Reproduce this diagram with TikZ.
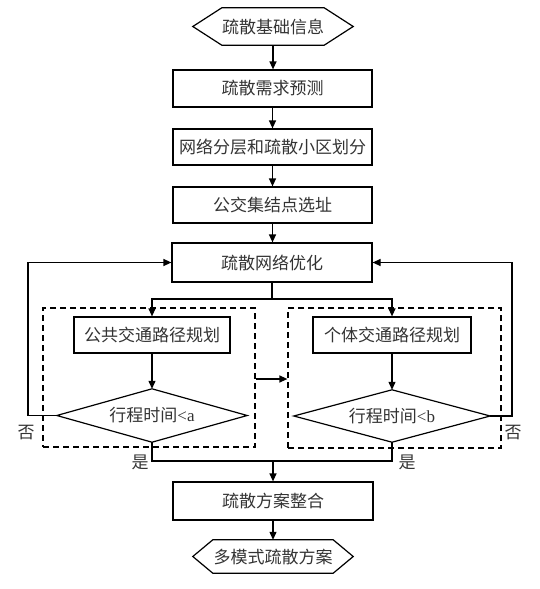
\documentclass[tikz,border=0pt]{standalone}
\usepackage{fontspec}
\setmainfont{Liberation Serif}
\newfontfamily\cjk{Noto Sans CJK SC}
\usetikzlibrary{arrows.meta}
\definecolor{txt}{HTML}{333333}
\begin{document}
\begin{tikzpicture}[x=1pt,y=-1pt,
  ln/.style={line width=1.2pt, line join=miter},
  arr/.style={ln, -{Triangle[length=8pt,width=7pt]}},
  box/.style={draw, ln, minimum width=199pt, minimum height=37pt, inner sep=0pt, text=txt, font=\cjk\fontsize{17}{17}\selectfont},
  hexn/.style={minimum width=160pt, inner sep=0pt, text=txt, font=\cjk\fontsize{17}{17}\selectfont},
  dia/.style={inner sep=0pt, text=txt, font=\cjk\fontsize{17}{17}\selectfont},
  dbox/.style={draw, ln, dash pattern=on 6pt off 4pt, inner sep=0pt},
  lab/.style={inner sep=0pt, text=txt, font=\cjk\fontsize{17}{17}\selectfont}]
\useasboundingbox (0,0) rectangle (540,589);
% dashed groups
\node[dbox, minimum width=212pt, minimum height=139pt] (LD) at (149,377.5) {};
\node[dbox, minimum width=213pt, minimum height=140pt] (RD) at (394.5,378) {};
% top hexagon
\node[hexn, minimum height=37pt] (h1) at (273,26.5) {疏散基础信息};
\draw[ln] (h1.west) -- ([xshift=29pt]h1.north west) -- ([xshift=-29pt]h1.north east) -- (h1.east) -- ([xshift=-29pt]h1.south east) -- ([xshift=29pt]h1.south west) -- cycle;
% main boxes
\node[box] (b1) at (272.5,88.5) {疏散需求预测};
\node[box, minimum height=36pt] (b2) at (272.5,147) {网络分层和疏散小区划分};
\node[box, minimum height=36pt] (b3) at (272.5,205) {公交集结点选址};
\node[box, minimum width=200pt, minimum height=39pt] (b4) at (272,262.5) {疏散网络优化};
% sub boxes
\node[box, minimum width=156pt, minimum height=36pt] (L1) at (152,335) {公共交通路径规划};
\node[box, minimum width=158pt, minimum height=36pt] (R1) at (392,335) {个体交通路径规划};
% diamonds
\node[dia, minimum width=190pt, minimum height=53pt] (D1) at (152,415.5) {行程时间{\rmfamily\fontsize{17}{17}\selectfont<a}};
\draw[ln] (D1.west) -- (D1.north) -- (D1.east) -- (D1.south) -- cycle;
\node[dia, minimum width=196pt, minimum height=52pt] (D2) at (392,416) {行程时间{\rmfamily\fontsize{17}{17}\selectfont<b}};
\draw[ln] (D2.west) -- (D2.north) -- (D2.east) -- (D2.south) -- cycle;
% bottom
\node[box, minimum width=200pt, minimum height=38pt] (b5) at (273,501) {疏散方案整合};
\node[hexn, minimum height=33pt] (h2) at (273,556.5) {多模式疏散方案};
\draw[ln] (h2.west) -- ([xshift=20pt]h2.north west) -- ([xshift=-20pt]h2.north east) -- (h2.east) -- ([xshift=-20pt]h2.south east) -- ([xshift=20pt]h2.south west) -- cycle;
% coordinates
\coordinate (sp) at (272,299);
\coordinate (mg) at (273,461);
\coordinate (fl) at (28,415.5);
\coordinate (fr) at (512,416);
% connectors
\draw[arr] (h1.south) -- (h1.south |- b1.north);
\draw[arr] (b1.south) -- (b2.north);
\draw[arr] (b2.south) -- (b3.north);
\draw[arr] (b3.south) -- (b3.south |- b4.north);
\draw[ln] (b4.south) -- (sp);
\draw[arr] (sp) -| (L1.north);
\draw[arr] (sp) -| (R1.north);
\draw[arr] (L1.south) -- (D1.north);
\draw[arr] (R1.south) -- (D2.north);
\draw[arr] (D1.west) -- (fl) |- (b4.west);
\draw[arr] (D2.east) -- (fr) |- (b4.east);
\draw[ln] (D1.south) |- (mg);
\draw[ln] (D2.south) |- (mg);
\draw[arr] (mg) -- (mg |- b5.north);
\draw[arr] (b5.south) -- (b5.south |- h2.north);
\draw[arr] ([yshift=-1.5pt]LD.east) -- ([yshift=-1.5pt]LD.east -| RD.west);
% labels
\node[lab] (n1) at (26,433) {否};
\node[lab] (n2) at (513,433) {否};
\node[lab] (y1) at (140,462) {是};
\node[lab] (y2) at (407,462) {是};
\end{tikzpicture}
\end{document}
